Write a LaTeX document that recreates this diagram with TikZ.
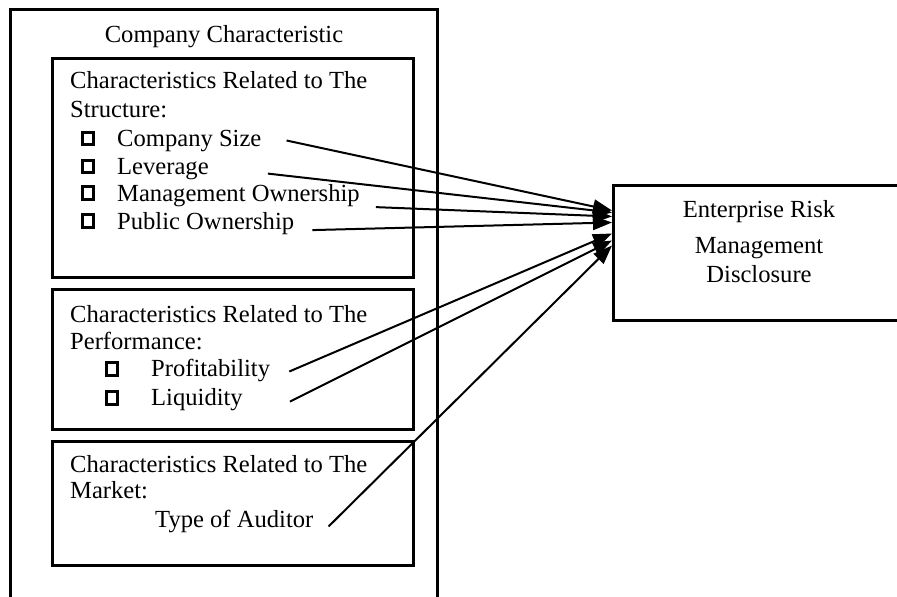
\documentclass[tikz,border=0pt]{standalone}
\usepackage{fontspec}
\setmainfont{Liberation Serif}
\usetikzlibrary{arrows.meta,positioning}

\begin{document}
\begin{tikzpicture}[x=1pt,y=-1pt,on grid,font=\fontsize{24.6}{29}\selectfont,
    >={Triangle[length=19pt,width=14pt]},
    txt/.style={anchor=base west,inner sep=0pt},
    tick/.style={draw,line width=2.8pt,minimum width=11.5pt,minimum height=12.5pt,inner sep=0pt},
    panel/.style={draw,line width=3pt},
    link/.style={->,line width=2pt}]
            \useasboundingbox (0,0) rectangle (897,597);
            \clip (0,0) rectangle (897,597);

            % outer frame, runs off the bottom
            \draw[panel] (10.5,605) -- (10.5,9.5) -- (437,9.5) -- (437,605);
            \node[anchor=base,inner sep=0pt] (title) at (224,42) {Company Characteristic};

            % structure
            \draw[panel] (52,58) rectangle (413.5,277);
            \node[txt] (s_head) at (70,88) {Characteristics Related to The};
            \node[txt] (s_sub) at (70,117) {Structure:};
            \node[txt] (size) at (117,146) {Company Size};
            \node[txt] (lev) [below=28pt of size.base west,anchor=base west] {Leverage};
            \node[txt] (mgmt) [below=27pt of lev.base west,anchor=base west] {Management Ownership};
            \node[txt] (pub) [below=28pt of mgmt.base west,anchor=base west] {Public Ownership};
            \node[tick] (t_size) [left=22pt of size.west,yshift=2pt] {};
            \node[tick] (t_lev) [left=22pt of lev.west,yshift=2pt] {};
            \node[tick] (t_mgmt) [left=22pt of mgmt.west,yshift=2pt] {};
            \node[tick] (t_pub) [left=22pt of pub.west,yshift=2pt] {};

            % performance
            \draw[panel] (52,289) rectangle (413.5,429.5);
            \node[txt] (p_head) at (70,322) {Characteristics Related to The};
            \node[txt] (p_sub) at (70,349) {Performance:};
            \node[txt] (prof) at (151,376) {Profitability};
            \node[txt] (liq) [below=29pt of prof.base west,anchor=base west] {Liquidity};
            \node[tick] (t_prof) [left=32pt of prof.west,yshift=1pt] {};
            \node[tick] (t_liq) [left=32pt of liq.west,yshift=1pt] {};

            % market
            \draw[panel] (52,441) rectangle (413.5,565);
            \node[txt] (m_head) at (70,472) {Characteristics Related to The};
            \node[txt] (m_sub) at (70,498) {Market:};
            \node[txt] (aud) at (155,527) {Type of Auditor};

            % dependent variable
            \node[panel,minimum width=294pt,minimum height=135pt,anchor=west] (erm) at (612,252.5) {};
            \node[align=center,anchor=north,inner sep=0pt] (erm_txt) at (759,200.5)
                {Enterprise Risk\\[7pt]Management\\Disclosure};

            \path[link]
                ([xshift=25pt]size.east) edge ([yshift=42pt]erm.west)
                ([xshift=59pt,yshift=-5pt]lev.east) edge ([yshift=40pt]erm.west)
                ([xshift=16pt,yshift=-12pt]mgmt.east) edge ([yshift=36pt]erm.west)
                ([xshift=18pt,yshift=-7pt]pub.east) edge ([yshift=30pt]erm.west)
                ([xshift=19pt,yshift=-1.5pt]prof.east) edge ([yshift=19pt]erm.west)
                ([xshift=47pt,yshift=-2.5pt]liq.east) edge ([yshift=12pt]erm.west)
                ([xshift=15pt,yshift=-5.5pt]aud.east) edge ([yshift=7pt]erm.west);
        \end{tikzpicture}
\end{document}
